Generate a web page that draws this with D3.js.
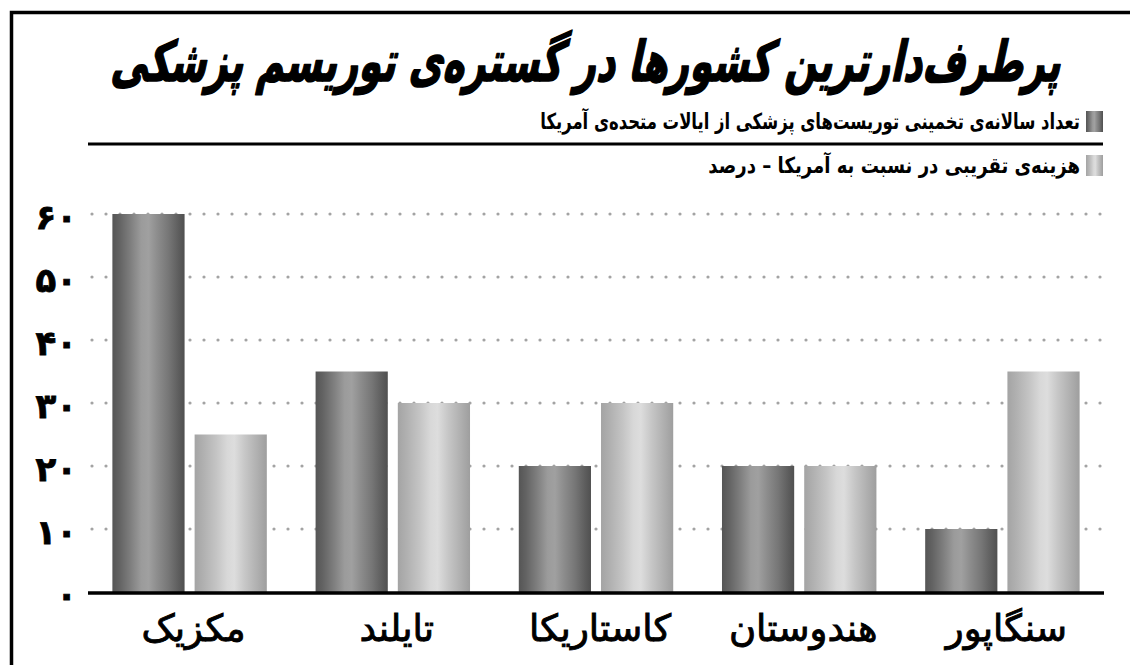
<!DOCTYPE html>
<html>
<head>
<meta charset="utf-8">
<script src="https://cdn.jsdelivr.net/npm/d3@7"></script>
<style>
  body { margin: 0; background: #fff; }
  svg { display: block; }
  text { font-family: "DejaVu Sans", sans-serif; }
</style>
</head>
<body>
<svg id="chart" width="1130" height="665"></svg>
<script>
// Chart data
const titleText = "پرطرف‌دارترین  کشورها در گستره‌ی توریسم پزشکی";
const categories = ["مکزیک", "تایلند", "کاستاریکا", "هندوستان", "سنگاپور"];
const seriesKeys = ["tourists", "cost"];
const seriesNames = [
  "تعداد سالانه‌ی تخمینی توریست‌های پزشکی از ایالات متحده‌ی آمریکا",
  "هزینه‌ی تقریبی در نسبت به آمریکا – درصد"
];
const touristCounts = [60, 35, 20, 20, 10];
const costPercent = [25, 30, 30, 20, 35];
const tickValues = [0, 10, 20, 30, 40, 50, 60];
const tickLabels = ["۰", "۱۰", "۲۰", "۳۰", "۴۰", "۵۰", "۶۰"];

const rows = categories.map((c, i) => ({
  category: c,
  values: [
    { key: seriesKeys[0], value: touristCounts[i] },
    { key: seriesKeys[1], value: costPercent[i] }
  ]
}));

const svg = d3.select("#chart");

// Column shading: darker edges, lighter centre
const defs = svg.append("defs");
const gradients = {
  tourists: [
    [0, "#555"], [0.1, "#636363"], [0.25, "#7e7e7e"], [0.4, "#9b9b9b"],
    [0.5, "#a0a0a0"], [0.62, "#8d8d8d"], [0.78, "#767676"], [0.92, "#5d5d5d"], [1, "#505050"]
  ],
  cost: [
    [0, "#a4a4a4"], [0.12, "#b0b0b0"], [0.3, "#c4c4c4"], [0.45, "#d8d8d8"],
    [0.55, "#dddddd"], [0.7, "#c6c6c6"], [0.85, "#b2b2b2"], [1, "#9e9e9e"]
  ]
};
Object.entries(gradients).forEach(([key, stops]) => {
  const g = defs.append("linearGradient")
    .attr("id", "grad-" + key)
    .attr("x1", 0).attr("x2", 1).attr("y1", 0).attr("y2", 0);
  stops.forEach(([o, c]) => g.append("stop").attr("offset", o).attr("stop-color", c));
});

// Scales
const x0 = d3.scaleBand().domain(categories).range([88, 1104])
  .paddingInner(0.24).paddingOuter(0.12);
const x1 = d3.scaleBand().domain(seriesKeys).range([0, x0.bandwidth()])
  .paddingInner(0.122);
const y = d3.scaleLinear().domain([0, 60]).range([592, 214]);

// Horizontal factor that makes a text span the given width
function fitWidth(sel, width) {
  const w = sel.node().getComputedTextLength();
  return width / w;
}

// Frame
svg.append("path")
  .attr("d", "M11.5,665 V12.5 H1130")
  .attr("fill", "none").attr("stroke", "#000").attr("stroke-width", 3.5);

// Title: heavy, slanted and condensed
const titleG = svg.append("g");
const title = titleG.append("text")
  .attr("direction", "rtl")
  .attr("text-anchor", "middle")
  .attr("font-weight", "bold")
  .attr("font-size", 56)
  .attr("fill", "#000")
  .attr("stroke", "#000").attr("stroke-width", 1.6)
  .attr("stroke-linejoin", "round")
  .text(titleText);
{
  const sx = fitWidth(title, 950);
  titleG.attr("transform", `translate(585,81) skewX(-12) scale(${sx},1)`);
}

// Legend
const legend = svg.append("g");
const legendRows = [
  { y: 122, key: seriesKeys[0], name: seriesNames[0], width: 540 },
  { y: 166, key: seriesKeys[1], name: seriesNames[1], width: 372 }
];
legendRows.forEach(r => {
  legend.append("rect")
    .attr("x", 1086).attr("y", r.y - 11).attr("width", 17).attr("height", 21)
    .attr("fill", `url(#grad-${r.key})`);
  const g = legend.append("g");
  const t = g.append("text")
    .attr("direction", "rtl")
    .attr("text-anchor", "start")
    .attr("font-size", 22)
    .attr("font-weight", "bold")
    .attr("fill", "#000")
    .text(r.name);
  const sx = fitWidth(t, r.width);
  g.attr("transform", `translate(1080,${r.y + 7}) scale(${sx},1)`);
});
legend.append("line")
  .attr("x1", 88).attr("x2", 1103).attr("y1", 144).attr("y2", 144)
  .attr("stroke", "#000").attr("stroke-width", 3);

// Dotted gridlines
svg.append("g").selectAll("line")
  .data(tickValues.filter(v => v > 0))
  .join("line")
  .attr("x1", 92).attr("x2", 1104)
  .attr("y1", d => y(d)).attr("y2", d => y(d))
  .attr("stroke", "#a3a3a3").attr("stroke-width", 3.2)
  .attr("stroke-linecap", "round").attr("stroke-dasharray", "0 14");

// Y axis labels
const yAxis = d3.axisLeft(y)
  .tickValues(tickValues)
  .tickFormat((d, i) => tickLabels[i])
  .tickSize(0).tickPadding(11);
const yg = svg.append("g").attr("transform", "translate(88,0)").call(yAxis);
yg.select(".domain").remove();
yg.selectAll("text")
  .attr("font-family", "'DejaVu Sans', sans-serif")
  .attr("font-size", 34).attr("font-weight", "bold").attr("fill", "#000")
  .attr("stroke", "#000").attr("stroke-width", 0.8)
  .attr("dy", "0.42em");

// Bars
const groups = svg.append("g").selectAll("g")
  .data(rows)
  .join("g")
  .attr("transform", d => `translate(${x0(d.category)},0)`);
groups.selectAll("rect")
  .data(d => d.values)
  .join("rect")
  .attr("x", d => x1(d.key))
  .attr("width", x1.bandwidth())
  .attr("y", d => y(d.value))
  .attr("height", d => y(0) - y(d.value))
  .attr("fill", d => `url(#grad-${d.key})`);

// Baseline
svg.append("line")
  .attr("x1", 88).attr("x2", 1104).attr("y1", 593).attr("y2", 593)
  .attr("stroke", "#000").attr("stroke-width", 3.5);

// Category labels
svg.append("g").selectAll("text")
  .data(categories)
  .join("text")
  .attr("direction", "rtl")
  .attr("text-anchor", "middle")
  .attr("x", d => x0(d) + x0.bandwidth() / 2 + 4)
  .attr("y", 641)
  .attr("font-size", 37)
  .attr("fill", "#000")
  .attr("stroke", "#000").attr("stroke-width", 0.9)
  .text(d => d);
</script>
</body>
</html>
